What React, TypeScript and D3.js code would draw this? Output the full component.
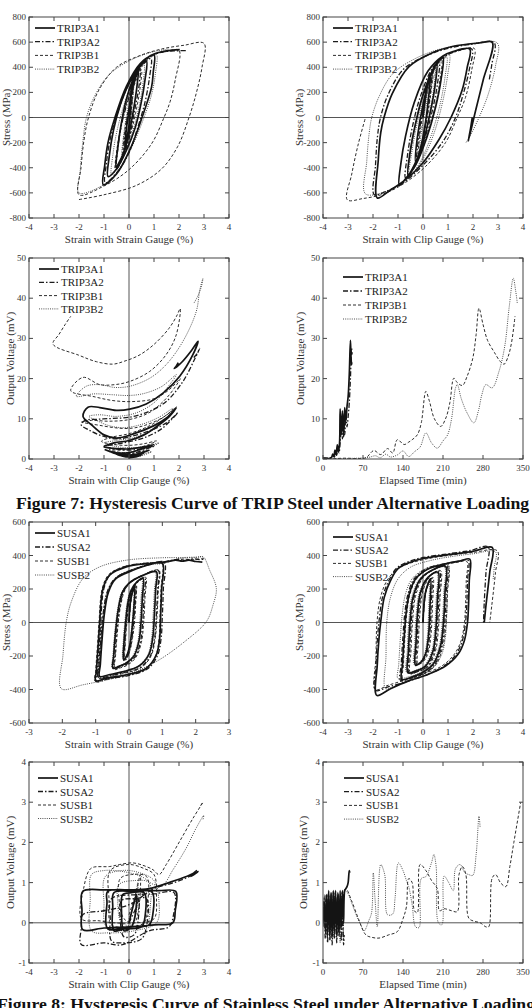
import React from 'react';
import * as d3 from 'd3';

type Pt = [number, number];

// series names
const tripNames = ['TRIP3A1', 'TRIP3A2', 'TRIP3B1', 'TRIP3B2'];
const susNames = ['SUSA1', 'SUSA2', 'SUSB1', 'SUSB2'];

// tick values
const strainTicks4 = [-4, -3, -2, -1, 0, 1, 2, 3, 4];
const strainTicks3 = [-3, -2, -1, 0, 1, 2, 3];
const stressTicks800 = [-800, -600, -400, -200, 0, 200, 400, 600, 800];
const stressTicks600 = [-600, -400, -200, 0, 200, 400, 600];
const tripVoltTicks = [0, 10, 20, 30, 40, 50];
const susVoltTicks = [-1, 0, 1, 2, 3, 4];
const timeTicks = [0, 70, 140, 210, 280, 350];

// ---------- TRIP steel: stress vs strain gauge ----------
const tripGaugeA1: Pt[][] = [[
  [0, 0], [0.06, 150], [0.13, 300], [0.08, 150], [0, -60], [-0.1, -180], [-0.17, -235],
  [-0.12, -120], [0, 60], [0.15, 250], [0.28, 330], [0.37, 365],
  [0.32, 250], [0.18, 60], [0, -130], [-0.2, -270], [-0.4, -360], [-0.52, -395],
  [-0.46, -260], [-0.32, -60], [-0.1, 150], [0.2, 320], [0.48, 415], [0.7, 447],
  [0.64, 300], [0.48, 110], [0.25, -80], [-0.1, -260], [-0.5, -410], [-0.84, -470],
  [-0.79, -310], [-0.62, -100], [-0.35, 100], [0, 270], [0.5, 430], [1.0, 500],
  [0.97, 360], [0.9, 240], [0.52, 0], [0.05, -250], [-0.5, -450], [-1.03, -535],
  [-0.97, -380], [-0.84, -200], [-0.56, 0], [-0.1, 250], [0.45, 430], [1.0, 505], [1.5, 530], [2.03, 540],
]];
const tripGaugeA2: Pt[][] = [[
  [0, 0], [0.1, 220], [0.18, 320], [0.12, 150], [0, -100], [-0.15, -240], [-0.22, -290],
  [-0.14, -100], [0.05, 120], [0.25, 300], [0.45, 390],
  [0.4, 250], [0.22, 50], [0, -170], [-0.25, -320], [-0.5, -410],
  [-0.45, -250], [-0.28, -40], [0, 160], [0.35, 360], [0.65, 440], [0.88, 470],
  [0.82, 320], [0.65, 130], [0.35, -80], [0, -280], [-0.45, -430], [-0.95, -520],
  [-0.9, -360], [-0.75, -170], [-0.45, 40], [0, 270], [0.6, 450], [1.2, 515], [1.8, 530], [2.3, 532],
]];
const tripGaugeB1: Pt[][] = [[
  [0, 0], [0.1, 200], [0.2, 300], [0.13, 130], [0, -80], [-0.15, -220], [-0.25, -300],
  [-0.18, -120], [0, 80], [0.25, 280], [0.5, 380],
  [0.44, 230], [0.26, 30], [0, -170], [-0.3, -330], [-0.55, -420],
  [-0.48, -250], [-0.3, -50], [0, 180], [0.5, 420], [1.0, 500], [1.5, 525], [2.0, 535],
  [1.85, 300], [1.65, 130], [1.4, 0], [0.9, -210], [0, -415], [-1.0, -545], [-2.0, -615],
  [-1.92, -400], [-1.8, -180], [-1.62, 0], [-1.2, 220], [-0.5, 400], [0.4, 490], [1.3, 545], [2.2, 575], [3.0, 590],
  [2.92, 400], [2.7, 200], [2.4, 0], [1.95, -230], [1.3, -410], [0.3, -540], [-1.0, -615], [-2.05, -655],
]];
const tripGaugeB2: Pt[][] = [[
  [0, 0], [0.12, 250], [0.2, 320], [0.15, 150], [0, -90], [-0.2, -260], [-0.3, -320],
  [-0.2, -120], [0, 120], [0.3, 330], [0.6, 420],
  [0.55, 260], [0.35, 40], [0, -200], [-0.4, -380], [-0.7, -460],
  [-0.64, -290], [-0.45, -80], [-0.1, 160], [0.4, 400], [0.9, 480], [1.1, 500],
  [1.05, 340], [0.9, 180], [0.6, 0], [0.1, -240], [-0.5, -440], [-1.1, -545], [-2.0, -600],
  [-1.95, -420], [-1.85, -200], [-1.7, 0], [-1.35, 180], [-0.8, 340], [0, 450], [0.9, 520], [1.6, 545],
]];

// ---------- TRIP steel: stress vs clip gauge ----------
const tripClipA1: Pt[][] = [[
  [0, 0], [0.15, 250], [0.3, 350], [0.22, 150], [0.05, -100], [-0.15, -280], [-0.3, -350],
  [-0.22, -150], [0, 100], [0.3, 330], [0.55, 420],
  [0.48, 250], [0.3, 50], [0, -200], [-0.35, -380], [-0.6, -460],
  [-0.52, -280], [-0.3, -50], [0, 180], [0.45, 400], [0.8, 480],
  [0.72, 300], [0.5, 80], [0.15, -160], [-0.3, -380], [-0.75, -500], [-0.95, -540],
  [-0.88, -360], [-0.7, -150], [-0.35, 120], [0.2, 370], [0.8, 490], [1.2, 525], [1.87, 545],
  [1.77, 400], [1.57, 220], [1.12, 0], [0.64, -175], [0, -360], [-0.7, -495], [-1.36, -585], [-1.83, -640],
  [-1.79, -340], [-1.69, -120], [-1.56, 0], [-1.23, 190], [-0.56, 405], [0.37, 515], [1.17, 565], [2.24, 593], [2.77, 598],
  [2.41, 300], [2.11, 60], [1.81, -189], [1.9, -90], [1.97, 0],
]];
const tripClipA2: Pt[][] = [[
  [0, 0], [0.2, 280], [0.35, 360], [0.28, 180], [0.1, -60], [-0.1, -250], [-0.25, -330],
  [-0.15, -120], [0.05, 120], [0.35, 350], [0.65, 440],
  [0.58, 270], [0.38, 60], [0.05, -180], [-0.3, -370], [-0.7, -480],
  [-0.62, -300], [-0.42, -70], [-0.1, 170], [0.4, 400], [0.9, 490], [1.3, 525], [1.95, 545],
  [1.85, 380], [1.6, 180], [1.3, 0], [0.8, -190], [0, -380], [-0.8, -520], [-1.5, -590], [-1.95, -615],
  [-1.9, -380], [-1.82, -150], [-1.7, 0], [-1.4, 180], [-0.8, 380], [0, 480], [1.0, 550], [2.0, 585], [2.85, 595],
  [2.75, 420], [2.65, 300],
]];
const tripClipB1: Pt[][] = [[
  [0, 0], [0.25, 300], [0.4, 380], [0.32, 200], [0.12, -50], [-0.1, -250], [-0.2, -310],
  [-0.1, -100], [0.1, 140], [0.45, 380], [0.75, 460],
  [0.68, 300], [0.5, 100], [0.15, -150], [-0.25, -360], [-0.6, -470],
  [-0.5, -280], [-0.3, -50], [0, 180], [0.5, 420], [1.0, 500], [1.5, 535], [2.05, 550],
  [1.95, 380], [1.7, 160], [1.37, 0], [0.9, -200], [0.1, -390], [-0.8, -530], [-1.6, -610], [-2.4, -645], [-3.03, -655],
  [-2.85, -450], [-2.6, -220], [-2.3, 0],
]];
const tripClipB2: Pt[][] = [[
  [0, 0], [0.3, 300], [0.5, 400], [0.42, 220], [0.2, -30], [0, -220], [-0.15, -300],
  [-0.05, -100], [0.2, 160], [0.6, 400], [0.95, 480],
  [0.88, 320], [0.7, 120], [0.35, -130], [-0.1, -350], [-0.55, -470],
  [-0.45, -280], [-0.2, -20], [0.15, 220], [0.6, 420], [1.05, 500],
  [0.98, 330], [0.78, 120], [0.45, -120], [0, -330], [-0.6, -490], [-1.3, -575], [-2.3, -608],
  [-2.25, -350], [-2.15, -120], [-2.05, 0], [-1.75, 170], [-1.2, 350], [-0.3, 470], [0.7, 545], [1.8, 582], [2.97, 593],
  [2.9, 410], [2.6, 180], [2.24, 0], [1.9, -140], [1.71, -203],
]];

// ---------- TRIP steel: output voltage vs clip gauge ----------
const tripVoltA1: Pt[][] = [[
  [0, 0.3], [0.3, 0.6], [0.5, 1.0], [0.3, 0.8], [0, 0.5], [-0.3, 0.8], [-0.5, 1.2],
  [-0.2, 0.8], [0.2, 1.0], [0.6, 1.8], [0.8, 2.2],
  [0.5, 1.5], [0, 1.0], [-0.4, 1.4], [-0.8, 2.0], [-0.95, 2.3],
  [-0.6, 1.6], [0, 1.6], [0.5, 2.5], [1.0, 3.6],
  [0.6, 3.0], [0, 2.5], [-0.5, 2.6], [-1.0, 3.0],
  [-0.6, 4.0], [0, 4.6], [0.6, 6.0], [1.2, 8.5], [1.6, 10.5], [1.89, 12.7],
  [1.5, 10.2], [1.0, 8.3], [0.2, 6.3], [-0.5, 5.2], [-1.0, 6.0], [-1.5, 8.5], [-1.84, 10.6],
  [-1.64, 12.9], [-1.17, 12.8], [-0.51, 12.1], [0.03, 12.4], [0.69, 13.7], [1.36, 16.4], [2.03, 20.6], [2.56, 26.0], [2.76, 29.3],
  [2.5, 27], [2.1, 24], [1.81, 22.5], [1.9, 23.2], [1.97, 24.0],
]];
const tripVoltA2: Pt[][] = [[
  [0, 0.5], [0.4, 1.0], [0.6, 1.5], [0.3, 1.0], [-0.1, 0.8], [-0.5, 1.2], [-0.7, 1.6],
  [-0.3, 1.2], [0.2, 1.5], [0.7, 2.5], [1.0, 3.2],
  [0.5, 2.5], [-0.1, 2.2], [-0.6, 2.6], [-1.0, 3.2],
  [-0.6, 3.6], [0, 4.3], [0.7, 5.5], [1.3, 7.5], [1.7, 9.8], [1.95, 11.5],
  [1.5, 9.0], [0.9, 7.2], [0.2, 5.8], [-0.5, 5.0], [-1.1, 5.8], [-1.6, 7.2], [-1.91, 8.5],
  [-1.75, 9.6], [-1.2, 9.9], [-0.64, 10.1], [0.03, 10.4], [0.83, 11.9], [1.49, 14.3], [2.16, 19.3], [2.6, 24.5], [2.83, 27.5],
  [2.7, 26], [2.55, 25],
]];
const tripVoltB1: Pt[][] = [[
  [0, 0.8], [0.4, 1.2], [0.7, 2.0], [0.4, 1.6], [0, 1.4], [-0.5, 1.8], [-0.8, 2.4],
  [-0.4, 2.2], [0.2, 2.6], [0.8, 3.6], [1.1, 4.5],
  [0.6, 3.8], [0, 3.4], [-0.6, 3.6], [-1.1, 4.4],
  [-0.7, 5.4], [0, 6.3], [0.8, 8.2], [1.4, 10.5], [1.9, 13],
  [1.4, 10.5], [0.6, 8.3], [0, 7.6], [-0.6, 7.8], [-1.2, 8.4], [-1.6, 8.8], [-1.9, 9.2],
  [-1.5, 9.6], [-0.8, 9.4], [0, 9.8], [0.8, 11.5], [1.4, 14.5], [1.8, 17.5], [2.05, 20],
  [1.6, 17.2], [1.0, 15], [0.2, 14.3], [-0.6, 14.5], [-1.4, 15.5], [-2.33, 17],
  [-1.84, 20.3], [-1.17, 18.5], [-0.57, 18.5], [0.03, 19.3], [0.83, 21.8], [1.49, 26], [1.89, 30.9], [2.05, 37.4],
  [1.9, 35.5], [1.6, 32.5], [1.0, 28.5], [0.4, 25.8], [-0.2, 24.3], [-0.64, 23.6], [-1.3, 24.2], [-2.0, 25.8], [-3.04, 28.6],
  [-2.8, 31], [-2.55, 33.5], [-2.33, 35.5],
]];
const tripVoltB2: Pt[][] = [[
  [0, 0.3], [0.5, 0.8], [0.9, 1.8], [0.5, 1.2], [0, 0.9], [-0.4, 1.2], [-0.7, 1.8],
  [-0.3, 1.5], [0.3, 2.0], [0.9, 3.0], [1.2, 4.0],
  [0.7, 3.2], [0, 2.8], [-0.6, 3.2], [-1.0, 4.0],
  [-0.5, 4.6], [0.2, 5.3], [0.9, 7.0], [1.4, 9.5], [1.75, 12.5],
  [1.2, 10.4], [0.5, 8.6], [-0.2, 7.8], [-0.8, 8.3], [-1.3, 9.6], [-1.6, 10.6],
  [-1.2, 11], [-0.5, 10.6], [0.3, 11.5], [1.0, 14], [1.5, 17.5], [1.9, 21],
  [1.3, 18], [0.6, 16.3], [0, 15.8], [-0.7, 16], [-1.4, 16.2], [-2.11, 15.6],
  [-1.71, 18.1], [-1.17, 18.5], [-0.57, 17.8], [0.03, 18.1], [0.83, 20.1], [1.49, 23.5], [2.16, 29.3], [2.69, 36.7], [2.83, 42], [2.96, 45],
  [2.9, 43], [2.75, 40.5], [2.6, 38.8],
]];

// ---------- TRIP steel: output voltage vs elapsed time ----------
const tripTimeA1: Pt[][] = [[
  [0, 0.3], [5, 0.2], [10, 0.1], [15, 0.4], [17, 1.2], [19, 0.6], [21, 2.2], [23, 1.0], [25, 3.5], [27, 1.8], [29, 4.0],
  [30, 12.5], [32, 6.0], [34, 12.0], [36, 5.5], [38, 12.8], [40, 9.5], [42, 13.0], [44, 15.5], [46, 21], [48, 29.5],
  [49, 25.5], [50, 23.5], [50.5, 24],
]];
const tripTimeA2: Pt[][] = [[
  [0, 0.1], [8, 0.2], [14, 0.3], [18, 1.0], [20, 0.5], [22, 1.8], [24, 0.9], [26, 2.8], [28, 1.5], [30, 4.2],
  [32, 9.5], [34, 5.0], [36, 10.5], [38, 6.0], [40, 11], [42, 8.0], [44, 10.5], [46, 14], [48, 20], [50, 27.5], [51, 26],
]];
const tripTimeB1: Pt[][] = [[
  [0, 0], [20, 0.1], [40, 0.2], [60, 0.1], [75, 0.3], [89, 2.1], [101, 1.1], [113, 2.6], [122, 1.5], [130, 4.8],
  [142, 3.6], [150, 4.2], [156, 4.8], [165, 6.0], [172, 9], [180, 16.8], [186, 14.5], [195, 10], [206, 8.1],
  [215, 10.2], [222, 14], [229, 20.1], [235, 19], [244, 18.3], [252, 20.5], [262, 25], [268, 31], [273, 37.5],
  [280, 33.5], [288, 29.5], [300, 26.5], [310, 24.3], [317, 23.6], [324, 25.5], [330, 29], [336, 35.5],
]];
const tripTimeB2: Pt[][] = [[
  [0, 0], [30, 0.1], [60, 0.2], [80, 0.4], [92, 0.8], [100, 0.3], [110, 1.2], [118, 0.5], [130, 1.0], [140, 2.0],
  [150, 0.6], [160, 1.8], [170, 3.0], [180, 6.5], [190, 4.0], [200, 2.7], [210, 4.5], [218, 6.0], [225, 10],
  [232, 17.7], [235, 18.5], [242, 15], [252, 11.5], [264, 9.0], [272, 12], [278, 16], [285, 18.5], [296, 17.7],
  [308, 21.8], [318, 28], [326, 38], [333, 45], [337, 42], [340, 38.8],
]];

// ---------- Stainless steel: stress vs strain gauge ----------
const susGaugeA1: Pt[][] = [[
  [0, 0], [0.06, 150], [0.17, 213], [0.15, 100], [0.1, -20], [0.03, -130], [-0.06, -195], [-0.16, -223],
  [-0.15, -120], [-0.1, 0], [-0.03, 120], [0.06, 190], [0.25, 245], [0.42, 263],
  [0.4, 150], [0.36, 0], [0.3, -110], [0.15, -200], [-0.1, -245], [-0.3, -262], [-0.48, -273],
  [-0.46, -200], [-0.4, -50], [-0.32, 80], [-0.2, 180], [0, 235], [0.4, 280], [0.82, 303],
  [0.8, 200], [0.76, 40], [0.72, -80], [0.6, -190], [0.3, -260], [-0.2, -295], [-0.6, -312], [-0.88, -322],
  [-0.86, -250], [-0.8, -80], [-0.74, 50], [-0.62, 180], [-0.4, 260], [0.1, 310], [0.6, 345], [1.0, 355],
  [0.98, 200], [0.95, 50], [0.92, -94], [0.82, -193], [0.52, -273], [-0.08, -312], [-0.68, -332], [-1.0, -348],
  [-0.98, -292], [-0.91, -94], [-0.88, 0], [-0.78, 203], [-0.58, 283], [-0.08, 332], [0.62, 352], [1.0, 358],
  [1.2, 365], [1.4, 372], [1.6, 366], [1.8, 372], [2.0, 364], [2.2, 360],
]];
const susGaugeA2: Pt[][] = [[
  [0, 0], [0.08, 160], [0.2, 220], [0.18, 100], [0.12, -40], [0.04, -150], [-0.05, -205], [-0.14, -230],
  [-0.12, -110], [-0.07, 20], [0, 130], [0.1, 200], [0.3, 250], [0.47, 268],
  [0.45, 150], [0.41, 0], [0.34, -120], [0.18, -205], [-0.08, -250], [-0.28, -265], [-0.44, -278],
  [-0.42, -190], [-0.36, -40], [-0.28, 90], [-0.15, 190], [0.05, 240], [0.45, 285], [0.88, 310],
  [0.86, 200], [0.82, 40], [0.77, -90], [0.64, -200], [0.34, -268], [-0.16, -300], [-0.56, -318], [-0.92, -330],
  [-0.9, -250], [-0.84, -80], [-0.77, 60], [-0.64, 190], [-0.4, 265], [0.1, 315], [0.6, 345], [1.05, 360],
  [1.03, 200], [1.0, 40], [0.96, -100], [0.85, -200], [0.55, -278], [-0.05, -318], [-0.65, -338], [-0.97, -352],
  [-0.95, -290], [-0.88, -90], [-0.85, 0], [-0.75, 205], [-0.55, 290], [-0.05, 338], [0.65, 356], [1.05, 362],
  [1.3, 372], [1.5, 378], [1.7, 370], [1.9, 380], [2.1, 376], [2.3, 378],
]];
const susGaugeB1: Pt[][] = [[
  [0, 0], [0.1, 170], [0.22, 225], [0.2, 110], [0.15, -30], [0.06, -140], [-0.03, -200], [-0.12, -225],
  [-0.1, -100], [-0.05, 30], [0.02, 140], [0.12, 205], [0.32, 250], [0.5, 270],
  [0.48, 150], [0.44, 0], [0.37, -120], [0.2, -210], [-0.05, -255], [-0.25, -270], [-0.42, -280],
  [-0.4, -190], [-0.34, -40], [-0.26, 90], [-0.12, 195], [0.08, 245], [0.48, 288], [0.9, 312],
  [0.88, 200], [0.84, 40], [0.79, -90], [0.66, -200], [0.36, -270], [-0.14, -303], [-0.54, -320], [-0.9, -333],
  [-0.88, -250], [-0.82, -80], [-0.75, 60], [-0.62, 190], [-0.38, 268], [0.12, 318], [0.62, 348], [0.98, 360],
  [0.96, 200], [0.93, 40], [0.9, -100], [0.8, -200], [0.5, -280], [-0.1, -318], [-0.7, -336], [-1.02, -350],
  [-1.0, -290], [-0.93, -90], [-0.9, 0], [-0.8, 205], [-0.6, 288], [-0.1, 336], [0.6, 356], [1.0, 362],
  [1.3, 370], [1.6, 378], [1.9, 376], [2.25, 382],
]];
const susGaugeB2: Pt[][] = [[
  [0, 0], [0.05, 140], [0.15, 205], [0.13, 90], [0.08, -30], [0.01, -140], [-0.08, -200], [-0.18, -218],
  [-0.17, -110], [-0.12, 10], [-0.05, 125], [0.04, 185], [0.22, 240], [0.38, 258],
  [0.36, 140], [0.32, -10], [0.26, -120], [0.1, -205], [-0.14, -245], [-0.34, -262], [-0.5, -270],
  [-0.48, -195], [-0.42, -45], [-0.34, 80], [-0.22, 180], [-0.02, 232], [0.38, 278], [0.78, 300],
  [0.76, 190], [0.72, 30], [0.68, -90], [0.56, -195], [0.26, -262], [-0.24, -296], [-0.64, -314], [-0.92, -325],
  [-0.9, -250], [-0.84, -80], [-0.78, 50], [-0.66, 180], [-0.44, 262], [0.06, 312], [0.6, 345], [1.0, 352],
  [1.5, 382], [2.0, 388], [2.22, 392],
  [2.42, 312], [2.62, 203], [2.52, 104], [2.32, 5], [1.67, -114], [0.82, -233], [-0.08, -312], [-1.38, -372], [-2.03, -395],
  [-1.98, -193], [-1.88, 5], [-1.73, 124], [-1.38, 263], [-0.88, 332], [-0.08, 372], [0.92, 386], [1.62, 388], [2.22, 392],
]];

// ---------- Stainless steel: stress vs clip gauge ----------
const susClipA1: Pt[][] = [[
  [0, 0], [0.1, 180], [0.3, 260], [0.28, 100], [0.22, -80], [0.1, -190], [-0.1, -240], [-0.3, -255],
  [-0.28, -120], [-0.22, 50], [-0.1, 180], [0.2, 270], [0.6, 300],
  [0.58, 150], [0.52, -30], [0.4, -170], [0.1, -260], [-0.3, -290], [-0.6, -300],
  [-0.58, -170], [-0.52, 0], [-0.4, 150], [-0.1, 260], [0.4, 315], [0.9, 335],
  [0.88, 180], [0.82, 0], [0.7, -140], [0.4, -250], [-0.1, -305], [-0.5, -328], [-0.85, -340],
  [-0.82, -250], [-0.75, -80], [-0.68, 50], [-0.55, 170], [-0.3, 260], [0.2, 320], [0.9, 350], [1.5, 368], [1.87, 378],
  [1.85, 250], [1.82, 100], [1.78, 0], [1.65, -110], [1.4, -190], [0.9, -260], [0.2, -310], [-0.6, -350], [-1.3, -395], [-1.85, -435],
  [-1.83, -253], [-1.76, -94], [-1.69, 5], [-1.55, 150], [-1.3, 250], [-1.0, 322], [-0.5, 360], [0, 382], [1.0, 405], [2.0, 425], [2.77, 448],
  [2.67, 300], [2.52, 104], [2.45, 0],
]];
const susClipA2: Pt[][] = [[
  [0, 0], [0.12, 190], [0.35, 265], [0.33, 110], [0.27, -70], [0.15, -185], [-0.05, -235], [-0.25, -250],
  [-0.23, -110], [-0.17, 60], [-0.05, 185], [0.25, 275], [0.65, 305],
  [0.63, 150], [0.57, -30], [0.45, -170], [0.15, -265], [-0.25, -295], [-0.55, -305],
  [-0.53, -170], [-0.47, 0], [-0.35, 155], [-0.05, 265], [0.45, 318], [0.95, 338],
  [0.93, 180], [0.87, 0], [0.75, -140], [0.45, -255], [-0.05, -310], [-0.45, -330], [-0.9, -345],
  [-0.87, -250], [-0.8, -80], [-0.73, 50], [-0.6, 170], [-0.35, 262], [0.15, 322], [0.85, 350], [1.4, 365], [1.8, 372],
  [1.78, 250], [1.75, 100], [1.7, 0], [1.57, -110], [1.3, -195], [0.8, -265], [0.1, -315], [-0.7, -355], [-1.4, -385], [-1.9, -405],
  [-1.88, -253], [-1.82, -94], [-1.76, 5], [-1.62, 150], [-1.35, 255], [-1.05, 325], [-0.55, 365], [0, 388], [1.0, 410], [1.9, 430], [2.6, 452],
  [2.52, 300], [2.45, 120], [2.42, 0],
]];
const susClipB1: Pt[][] = [[
  [0, 0], [0.15, 200], [0.4, 270], [0.38, 110], [0.32, -70], [0.2, -185], [0, -235], [-0.2, -248],
  [-0.18, -110], [-0.12, 60], [0, 190], [0.3, 278], [0.7, 310],
  [0.68, 150], [0.62, -30], [0.5, -170], [0.2, -265], [-0.2, -292], [-0.5, -302],
  [-0.48, -170], [-0.42, 0], [-0.3, 155], [0, 268], [0.5, 320], [1.0, 340],
  [0.98, 180], [0.92, 0], [0.8, -140], [0.5, -255], [0, -310], [-0.4, -330], [-0.8, -338],
  [-0.78, -250], [-0.72, -80], [-0.65, 50], [-0.52, 170], [-0.25, 262], [0.25, 322], [0.9, 348], [1.4, 360], [1.75, 365],
  [1.73, 250], [1.7, 100], [1.66, 0], [1.52, -110], [1.25, -190], [0.75, -260], [0.05, -305], [-0.75, -345], [-1.4, -375], [-1.9, -400],
  [-1.88, -200], [-1.84, 0], [-1.7, 150], [-1.4, 260], [-0.9, 330], [0, 375], [1.0, 400], [2.0, 418], [2.97, 428],
  [2.9, 300], [2.75, 100], [2.67, 0],
]];
const susClipB2: Pt[][] = [[
  [0, 0], [0.08, 170], [0.25, 250], [0.23, 90], [0.17, -90], [0.05, -195], [-0.15, -240], [-0.35, -252],
  [-0.33, -120], [-0.27, 50], [-0.15, 175], [0.15, 265], [0.55, 295],
  [0.53, 150], [0.47, -30], [0.35, -170], [0.05, -258], [-0.35, -288], [-0.65, -298],
  [-0.63, -170], [-0.57, 0], [-0.45, 150], [-0.15, 258], [0.35, 312], [0.85, 330],
  [0.83, 180], [0.77, 0], [0.65, -140], [0.35, -248], [-0.15, -302], [-0.6, -325], [-1.0, -335],
  [-0.97, -250], [-0.9, -80], [-0.83, 50], [-0.7, 170], [-0.45, 258], [0.05, 318], [0.7, 345], [1.0, 350],
  [0.98, 200], [0.95, 50], [0.9, -80], [0.75, -190], [0.4, -270], [-0.2, -320], [-0.8, -360], [-1.2, -385], [-1.5, -395],
  [-1.48, -200], [-1.45, 0], [-1.3, 150], [-1.0, 260], [-0.5, 330], [0.3, 370], [1.2, 395], [2.0, 410], [2.9, 422],
  [2.85, 330], [2.8, 250],
]];

// ---------- Stainless steel: output voltage vs clip gauge ----------
const susVoltA1: Pt[][] = [[
  [0, 0], [0.2, 0.5], [0.3, 0.7], [0.25, 0.2], [0.1, -0.1], [-0.2, -0.2], [-0.3, 0.3], [-0.25, 0.7],
  [0.1, 0.75], [0.6, 0.75], [0.65, 0.2], [0.5, -0.1], [-0.2, -0.15], [-0.6, -0.2], [-0.65, 0.4], [-0.6, 0.75],
  [0.2, 0.78], [0.9, 0.78], [0.95, 0.2], [0.8, -0.05], [0, -0.1], [-0.85, -0.15], [-0.88, 0.5], [-0.85, 0.78],
  [0.5, 0.8], [1.2, 0.8], [1.87, 0.78], [1.85, 0.3], [1.75, 0.0], [1.0, -0.05], [0, -0.1], [-1.0, -0.13], [-1.85, -0.17],
  [-1.88, 0.3], [-1.85, 0.78], [-1.0, 0.82], [0, 0.82], [0.8, 0.85], [1.6, 1.0], [2.3, 1.15], [2.76, 1.28],
  [2.6, 1.2], [2.45, 1.15],
]];
const susVoltA2: Pt[][] = [[
  [0, 0], [0.3, 0.4], [0.4, 0.6], [0.35, 0], [0.2, -0.3], [-0.2, -0.35], [-0.35, 0.1], [-0.3, 0.55],
  [0.2, 0.6], [0.7, 0.6], [0.72, 0.0], [0.5, -0.4], [-0.3, -0.5], [-0.7, -0.45], [-0.75, 0.1], [-0.7, 0.6],
  [0.3, 0.7], [1.0, 0.72], [1.8, 0.75], [1.78, 0.2], [1.6, -0.1], [0.8, -0.2], [-0.3, -0.55], [-1.0, -0.5], [-1.91, -0.54],
  [-1.9, -0.1], [-1.85, 0.2], [-1.0, 0.3], [0, 0.45], [1.0, 0.85], [1.8, 1.0], [2.4, 1.15], [2.7, 1.3], [2.6, 1.25],
]];
const susVoltB1: Pt[][] = [[
  [0, 0.2], [0.3, 0.8], [0.45, 1.2], [0.4, 0.4], [0.2, 0.0], [-0.2, 0.1], [-0.4, 0.6], [-0.35, 1.1],
  [0.1, 1.2], [0.7, 1.15], [0.75, 0.5], [0.6, 0.0], [0, -0.1], [-0.7, -0.05], [-0.8, 0.6], [-0.75, 1.3],
  [0, 1.45], [0.6, 1.35], [1.0, 1.2], [1.1, 0.6], [1.0, 0.1], [0.3, 0.0], [-0.6, 0.0], [-1.2, 0.05], [-1.9, 0.1],
  [-1.8, 0.9], [-1.6, 1.3], [-1.44, 1.38], [-0.77, 1.4], [-0.37, 1.45], [0.16, 1.49], [0.6, 1.42], [0.96, 1.32], [1.2, 1.2],
  [1.49, 1.45], [2.03, 2.03], [2.56, 2.6], [2.96, 3.0], [2.9, 2.95], [2.85, 2.9],
]];
const susVoltB2: Pt[][] = [[
  [0, 0.1], [0.25, 0.6], [0.35, 1.0], [0.3, 0.3], [0.1, -0.05], [-0.3, 0.0], [-0.45, 0.5], [-0.4, 0.95],
  [0.2, 1.05], [0.8, 1.0], [0.85, 0.4], [0.7, -0.05], [0, -0.15], [-0.9, -0.1], [-1.0, 0.5], [-0.95, 1.15],
  [-0.3, 1.3], [0.4, 1.25], [1.0, 1.05], [1.2, 0.5], [1.1, 0.0], [0.2, -0.2], [-0.8, -0.25], [-1.5, -0.2],
  [-1.55, 0.6], [-1.5, 1.2], [-1.0, 1.3], [-0.3, 1.28], [0.5, 1.15], [1.0, 0.95], [1.36, 0.95], [1.76, 1.32],
  [2.29, 1.86], [2.69, 2.36], [2.99, 2.67], [2.95, 2.55],
]];

// ---------- Stainless steel: output voltage vs elapsed time ----------
const susTimeA1: Pt[][] = [[
  [0, 0.0], [2, 0.5], [4, -0.2], [6, 0.7], [8, -0.3], [10, 0.8], [12, -0.3], [14, 0.75], [16, -0.35], [18, 0.8],
  [20, -0.2], [22, 0.8], [24, -0.3], [26, 0.75], [28, -0.25], [30, 0.8], [32, -0.1], [34, 0.8], [36, 0.0], [38, 0.8],
  [40, 0.85], [42, 0.9], [44, 1.0], [46, 1.3], [47, 1.25],
]];
const susTimeA2: Pt[][] = [[
  [0, -0.1], [2, 0.6], [4, -0.4], [6, 0.65], [8, -0.5], [10, 0.7], [12, -0.45], [14, 0.7], [16, -0.55], [18, 0.75],
  [20, -0.4], [22, 0.7], [24, -0.5], [26, 0.7], [28, -0.35], [30, 0.6], [32, -0.45], [34, 0.5], [36, -0.55], [37, -0.3],
]];
const susTimeB1: Pt[][] = [[
  [0, 0.2], [3, 0.7], [6, -0.2], [9, 0.75], [12, -0.3], [15, 0.7], [18, -0.2], [21, 0.75], [24, -0.25], [27, 0.7],
  [30, -0.1], [33, 0.75], [36, 0.8], [40, 0.85], [50, 0.55], [62, 0.1], [75, -0.3], [85, -0.36], [98, -0.38],
  [115, -0.3], [130, -0.22], [140, 0.1], [146, 0.4], [150, 1.1], [156, 1.0], [160, 0.3], [165, 0.25], [170, 1.45],
  [180, 1.3], [190, 1.05], [200, 0.85], [204, 0.3], [212, 0.35], [225, 0.3], [235, 0.28], [238, 1.2], [244, 1.4],
  [250, 1.2], [255, 0.12], [264, 0.04], [275, 0.0], [285, -0.1], [290, -0.1], [296, 1.11], [302, 1.2], [311, 0.99],
  [320, 0.9], [327, 1.4], [334, 2.0], [346, 3.0],
]];
const susTimeB2: Pt[][] = [[
  [0, 0.1], [3, 0.65], [6, -0.3], [9, 0.7], [12, -0.4], [15, 0.75], [18, -0.35], [21, 0.7], [24, -0.4], [27, 0.72],
  [30, -0.5], [33, 0.7], [36, -0.45], [38, 0.8], [44, 0.72], [50, 0.5], [58, 0.2], [66, -0.05], [72, -0.2], [80, 0.05],
  [85, 0.25], [88, 1.24], [91, 0.6], [95, -0.1], [101, 1.45], [108, 1.2], [113, 0.2], [122, 0.22], [126, 0.6],
  [132, 1.49], [140, 1.3], [146, 1.05], [150, 0.9], [156, 0.45], [162, -0.1], [168, -0.12], [172, 1.1], [180, 1.15],
  [190, 1.5], [194, 1.7], [198, 1.4], [202, 0.0], [208, -0.05], [212, 1.16], [220, 1.0], [228, 0.8], [232, 1.35],
  [240, 1.45], [248, 1.25], [255, 1.2], [262, 1.18], [268, 1.7], [273, 2.65], [275, 2.36],
]];

// line styles for A1, A2, B1, B2
const lineStyles = [
  { width: 1.7, dash: undefined as string | undefined, color: '#141414' },
  { width: 1.3, dash: '5 2 1.5 2', color: '#1c1c1c' },
  { width: 1.0, dash: '3 2', color: '#2e2e2e' },
  { width: 0.9, dash: '1 1.2', color: '#3c3c3c' },
];
const drawOrder = [3, 2, 1, 0];

const W = 200;
const H = 201;
const FONT = '"Liberation Serif", "Times New Roman", serif';

type PanelProps = {
  left: number;
  top: number;
  xDomain: [number, number];
  yDomain: [number, number];
  xTicks: number[];
  yTicks: number[];
  xTitle: string;
  yTitle: string;
  yTitleX: number;
  series: Pt[][][];
  names: string[];
  legendX: number;
  legendY: number;
  legendGap: number;
  zeroX?: boolean;
  zeroY?: boolean;
};

function Panel(p: PanelProps) {
  const x = d3.scaleLinear().domain(p.xDomain).range([p.left, p.left + W]);
  const y = d3.scaleLinear().domain(p.yDomain).range([p.top + H, p.top]);
  const line = d3
    .line<Pt>()
    .x((d) => x(d[0]))
    .y((d) => y(d[1]))
    .curve(d3.curveCatmullRom.alpha(0.5));
  const clipId = `clip-${p.left}-${p.top}`;
  const bottom = p.top + H;
  const right = p.left + W;
  const tk = 4;

  return (
    <g>
      <defs>
        <clipPath id={clipId}>
          <rect x={p.left} y={p.top} width={W} height={H} />
        </clipPath>
      </defs>
      {p.zeroX && <line x1={x(0)} x2={x(0)} y1={p.top} y2={bottom} stroke="#555" strokeWidth={1} />}
      {p.zeroY && <line x1={p.left} x2={right} y1={y(0)} y2={y(0)} stroke="#555" strokeWidth={1} />}
      <g clipPath={`url(#${clipId})`}>
        {drawOrder.map((i) =>
          p.series[i].map((seg, j) => (
            <path
              key={`${i}-${j}`}
              d={line(seg) ?? ''}
              fill="none"
              stroke={lineStyles[i].color}
              strokeWidth={lineStyles[i].width}
              strokeDasharray={lineStyles[i].dash}
              strokeLinejoin="round"
            />
          ))
        )}
      </g>
      <rect x={p.left} y={p.top} width={W} height={H} fill="none" stroke="#444" strokeWidth={1} />
      {p.xTicks.map((t) => (
        <g key={`xt${t}`}>
          <line x1={x(t)} x2={x(t)} y1={bottom} y2={bottom - tk} stroke="#444" />
          <line x1={x(t)} x2={x(t)} y1={p.top} y2={p.top + tk} stroke="#444" />
          <text x={x(t)} y={bottom + 12} fontSize={9} textAnchor="middle" fill="#333" fontFamily={FONT}>
            {String(t)}
          </text>
        </g>
      ))}
      {p.yTicks.map((t) => (
        <g key={`yt${t}`}>
          <line x1={p.left} x2={p.left + tk} y1={y(t)} y2={y(t)} stroke="#444" />
          <line x1={right} x2={right - tk} y1={y(t)} y2={y(t)} stroke="#444" />
          <text x={p.left - 3} y={y(t) + 3} fontSize={9} textAnchor="end" fill="#333" fontFamily={FONT}>
            {String(t)}
          </text>
        </g>
      ))}
      <text x={p.left + W / 2} y={bottom + 25} fontSize={11} textAnchor="middle" fill="#333" fontFamily={FONT}>
        {p.xTitle}
      </text>
      <text
        transform={`translate(${p.yTitleX},${p.top + H / 2}) rotate(-90)`}
        fontSize={11}
        textAnchor="middle"
        dominantBaseline="central"
        fill="#333"
        fontFamily={FONT}
      >
        {p.yTitle}
      </text>
      {p.names.map((name, i) => {
        const ly = p.legendY + i * p.legendGap;
        return (
          <g key={name}>
            <line
              x1={p.legendX}
              x2={p.legendX + 20}
              y1={ly}
              y2={ly}
              stroke={lineStyles[i].color}
              strokeWidth={lineStyles[i].width}
              strokeDasharray={lineStyles[i].dash}
            />
            <text x={p.legendX + 22} y={ly + 4} fontSize={11} fill="#222" fontFamily={FONT}>
              {name}
            </text>
          </g>
        );
      })}
    </g>
  );
}

export default function App() {
  const L = 29;
  const R = 323;
  return (
    <svg
      width={532}
      height={1008}
      viewBox="0 0 532 1008"
      style={{ position: 'absolute', left: 0, top: 0, background: '#fff' }}
    >
      <rect width={532} height={1008} fill="#fff" />
      <Panel
        left={L} top={17} xDomain={[-4, 4]} yDomain={[-800, 800]}
        xTicks={strainTicks4} yTicks={stressTicks800}
        xTitle="Strain with Strain Gauge (%)" yTitle="Stress (MPa)" yTitleX={6}
        series={[tripGaugeA1, tripGaugeA2, tripGaugeB1, tripGaugeB2]} names={tripNames}
        legendX={L + 6} legendY={28} legendGap={13.7} zeroX zeroY
      />
      <Panel
        left={R} top={17} xDomain={[-4, 4]} yDomain={[-800, 800]}
        xTicks={strainTicks4} yTicks={stressTicks800}
        xTitle="Strain with Clip Gauge (%)" yTitle="Stress (MPa)" yTitleX={299}
        series={[tripClipA1, tripClipA2, tripClipB1, tripClipB2]} names={tripNames}
        legendX={R + 10} legendY={28} legendGap={13.7} zeroX zeroY
      />
      <Panel
        left={L} top={258} xDomain={[-4, 4]} yDomain={[0, 50]}
        xTicks={strainTicks4} yTicks={tripVoltTicks}
        xTitle="Strain with Clip Gauge (%)" yTitle="Output Voltage (mV)" yTitleX={10}
        series={[tripVoltA1, tripVoltA2, tripVoltB1, tripVoltB2]} names={tripNames}
        legendX={L + 10} legendY={269} legendGap={13.3} zeroX
      />
      <Panel
        left={R} top={258} xDomain={[0, 350]} yDomain={[0, 50]}
        xTicks={timeTicks} yTicks={tripVoltTicks}
        xTitle="Elapsed Time (min)" yTitle="Output Voltage (mV)" yTitleX={300}
        series={[tripTimeA1, tripTimeA2, tripTimeB1, tripTimeB2]} names={tripNames}
        legendX={R + 20} legendY={277} legendGap={14}
      />
      <text x={16} y={509} fontSize={17.7} fontWeight="bold" fill="#111" fontFamily={FONT}>
        Figure 7: Hysteresis Curve of TRIP Steel under Alternative Loading
      </text>
      <Panel
        left={L} top={522} xDomain={[-3, 3]} yDomain={[-600, 600]}
        xTicks={strainTicks3} yTicks={stressTicks600}
        xTitle="Strain with Strain Gauge (%)" yTitle="Stress (MPa)" yTitleX={6}
        series={[susGaugeA1, susGaugeA2, susGaugeB1, susGaugeB2]} names={susNames}
        legendX={L + 6} legendY={533} legendGap={14} zeroX zeroY
      />
      <Panel
        left={R} top={522} xDomain={[-4, 4]} yDomain={[-600, 600]}
        xTicks={strainTicks4} yTicks={stressTicks600}
        xTitle="Strain with Clip Gauge (%)" yTitle="Stress (MPa)" yTitleX={299}
        series={[susClipA1, susClipA2, susClipB1, susClipB2]} names={susNames}
        legendX={R + 10} legendY={537} legendGap={13.2} zeroX zeroY
      />
      <Panel
        left={L} top={762} xDomain={[-4, 4]} yDomain={[-1, 4]}
        xTicks={strainTicks4} yTicks={susVoltTicks}
        xTitle="Strain with Clip Gauge (%)" yTitle="Output Voltage (mV)" yTitleX={10}
        series={[susVoltA1, susVoltA2, susVoltB1, susVoltB2]} names={susNames}
        legendX={L + 9} legendY={778} legendGap={13.5} zeroX zeroY
      />
      <Panel
        left={R} top={762} xDomain={[0, 350]} yDomain={[-1, 4]}
        xTicks={timeTicks} yTicks={susVoltTicks}
        xTitle="Elapsed Time (min)" yTitle="Output Voltage (mV)" yTitleX={303}
        series={[susTimeA1, susTimeA2, susTimeB1, susTimeB2]} names={susNames}
        legendX={R + 21} legendY={778} legendGap={13.7} zeroY
      />
      <text x={-3} y={1010} fontSize={17.7} fontWeight="bold" fill="#111" fontFamily={FONT}>
        Figure 8: Hysteresis Curve of Stainless Steel under Alternative Loading
      </text>
    </svg>
  );
}
